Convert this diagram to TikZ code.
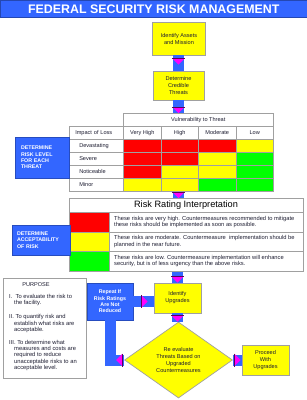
\documentclass[tikz,border=0pt]{standalone}
\usepackage{fontspec}
\setmainfont{Liberation Sans}
\usetikzlibrary{shapes.geometric,calc}
\definecolor{bblue}{RGB}{51,102,255}
\definecolor{yel}{RGB}{255,255,0}
\definecolor{rd}{RGB}{255,0,0}
\definecolor{gr}{RGB}{0,255,0}
\definecolor{mag}{RGB}{255,0,255}
\definecolor{edge}{RGB}{160,160,160}
\definecolor{txt}{RGB}{30,30,50}
\newcommand\tridn[1]{\fill[mag] ($#1+(-6,-6)$) -- ($#1+(6,-6)$) -- #1 -- cycle;
  \draw[mag!35!black, line width=0.5pt] ($#1+(-6.5,-6)$) -- ($#1+(6.5,-6)$);}
\newcommand\trirt[1]{\fill[mag] ($#1+(-6,-6)$) -- ($#1+(-6,6)$) -- #1 -- cycle;
  \draw[mag!35!black, line width=0.5pt] ($#1+(-6,-6.5)$) -- ($#1+(-6,6.5)$);}
\newcommand\trilf[1]{\fill[mag] ($#1+(6,-6)$) -- ($#1+(6,6)$) -- #1 -- cycle;
  \draw[mag!35!black, line width=0.5pt] ($#1+(6,-6.5)$) -- ($#1+(6,6.5)$);}
\begin{document}
\begin{tikzpicture}[x=1pt,y=-1pt,
  ybox/.style={draw=edge, fill=yel, line width=0.7pt, inner sep=0, align=center, text=txt, font=\fontsize{5.6}{7}\selectfont},
  bbox/.style={draw=bblue!75!black, fill=bblue, line width=0.4pt, inner sep=0, text=white, font=\bfseries\fontsize{5.3}{6.4}\selectfont},
  bar/.style={draw=bblue, line width=11pt},
  cell/.style={draw=edge, line width=0.5pt, inner sep=0, anchor=north west, minimum height=13pt, text=txt, font=\fontsize{5.6}{7}\selectfont},
  ptext/.style={anchor=west, inner sep=0, text=txt, font=\fontsize{5.8}{7}\selectfont},
  rtext/.style={anchor=west, inner sep=0, align=left, text=txt, font=\fontsize{5.75}{6.3}\selectfont},
]
\useasboundingbox (0,0) rectangle (307,400);
\fill[white] (0,0) rectangle (307,400);

% title
\node[fill=bblue, draw=bblue!70!black, line width=0.5pt, anchor=north west, minimum width=307pt, minimum height=17pt, inner sep=0, text=white, font=\bfseries\fontsize{12.4}{14}\selectfont] (title) at (0,0) {FEDERAL SECURITY RISK MANAGEMENT};

% top boxes
\node[ybox, minimum width=53pt, minimum height=33pt] (n1) at (179,38.5) {Identify Assets\\and Mission};
\node[ybox, minimum width=51pt, minimum height=29pt] (n2) at (178.5,85.5) {Determine\\Credible\\Threats};

% table
\node[cell, minimum width=150pt] (vul) at (123,113) {Vulnerability to Threat};
\node[cell, minimum width=54pt, text width=42pt, inner xsep=6pt, align=left] (imp) at (69,126) {Impact of Loss};
\node[cell, minimum width=38pt] (vh) at (123,126) {Very High};
\node[cell, minimum width=37pt] (hi) at (161,126) {High};
\node[cell, minimum width=38pt] (mo) at (198,126) {Moderate};
\node[cell, minimum width=37pt] (lo) at (236,126) {Low};
\foreach \r/\y/\lab/\ca/\cb/\cc/\cd in {1/139/Devastating/rd/rd/rd/yel, 2/152/Severe/rd/rd/yel/gr, 3/165/Noticeable/rd/yel/yel/gr, 4/178/Minor/yel/yel/gr/gr}{
  \node[cell, minimum width=54pt, text width=34pt, inner xsep=10pt, align=left] (l\r) at (69,\y) {\lab};
  \node[cell, fill=\ca, minimum width=38pt] (a\r) at (123,\y) {};
  \node[cell, fill=\cb, minimum width=37pt] (b\r) at (161,\y) {};
  \node[cell, fill=\cc, minimum width=38pt] (c\r) at (198,\y) {};
  \node[cell, fill=\cd, minimum width=37pt] (d\r) at (236,\y) {};
}
\node[bbox, minimum width=54pt, minimum height=41pt, text width=42pt, inner xsep=6pt, align=left] (risk) at (42,157.5) {DETERMINE\\RISK LEVEL\\FOR EACH\\THREAT};

% risk rating interpretation
\node[draw=edge, line width=0.7pt, fill=white, anchor=north west, minimum width=234pt, minimum height=73pt, inner sep=0] (rri) at (69,198) {};
\node[inner sep=0, text=black, font=\fontsize{9.2}{11}\selectfont] (rrit) at (186,205.5) {Risk Rating Interpretation};
\draw[edge, line width=0.6pt] (69,212) -- (303,212) (69,232) -- (303,232) (69,251) -- (303,251);
\fill[rd] (70,212.5) rectangle (109,231.5);
\fill[yel] (70,232.5) rectangle (109,250.5);
\fill[gr] (70,251.5) rectangle (109,270.5);
\draw[edge, line width=0.5pt] (109,212) -- (109,271);
\node[rtext] (t1) at (114,222) {These risks are very high. Countermeasures recommended to mitigate\\these risks should be implemented as soon as possible.};
\node[rtext] (t2) at (114,241.5) {These risks are moderate. Countermeasure\ \ implementation should be\\planned in the near future.};
\node[rtext] (t3) at (114,261) {These risks are low. Countermeasure implementation will enhance\\security, but is of less urgency than the above risks.};
\node[bbox, minimum width=58pt, minimum height=30pt, text width=48pt, inner xsep=5pt, align=left] (acc) at (41,240) {DETERMINE\\ACCEPTABILITY\\OF RISK};

% lower flow
\node[ybox, minimum width=47pt, minimum height=30pt] (iu) at (177.5,298) {Identify\\Upgrades};
\node[bbox, minimum width=46pt, minimum height=37pt, align=center] (rep) at (110,301.5) {Repeat If\\Risk Ratings\\Are Not\\Reduced};
\node[diamond, draw=edge, fill=yel, line width=0.7pt, minimum width=108pt, minimum height=76pt, aspect=1.42, inner sep=0, align=center, text=txt, font=\fontsize{5.6}{7}\selectfont] (dia) at (178.5,360) {Re evaluate\\Threats Based on\\Upgraded\\Countermeasures};
\node[ybox, minimum width=47pt, minimum height=30pt] (pro) at (265.5,360) {Proceed\\With\\Upgrades};

% purpose
\node[draw=edge, line width=0.9pt, fill=white, anchor=north west, minimum width=83pt, minimum height=100pt, inner sep=0] (pur) at (3,278) {};
\node[inner sep=0, text=txt, font=\fontsize{5.6}{7}\selectfont] (purt) at (36,285) {PURPOSE};
\node[ptext] (p1) at (9,296) {I.\ \ To evaluate the risk to};
\node[ptext] (p2) at (14,303) {the facility.};
\node[ptext] (p3) at (9,316.5) {II. To quantify risk and};
\node[ptext] (p4) at (14,323.5) {establish what risks are};
\node[ptext] (p5) at (14,330) {acceptable.};
\node[ptext] (p6) at (9,342.5) {III. To determine what};
\node[ptext] (p7) at (14,348.5) {measures and costs are};
\node[ptext] (p8) at (14,354.5) {required to reduce};
\node[ptext] (p9) at (14,361.5) {unacceptable risks to an};
\node[ptext] (p10) at (14,367.5) {acceptable level.};

% connectors
\draw[bar] (n2.north |- n1.south) -- (n2.north);
\draw[bar] (n2.south) -- (n2.south |- vul.north);
\draw[bar] (n2.south |- l4.south) -- (n2.south |- rri.north);
\draw[bar] (iu.north |- rri.south) -- (iu.north);
\draw[bar] (iu.south) -- (iu.south |- dia.north);
\draw[bar] (dia.east) -- (pro.west);
\draw[bar] (rep.east) -- (rep.east -| iu.west);
\draw[bar] (dia.west) -- (rep.south |- dia.west) -- (rep.south);

% arrowheads
\tridn{($(n2.north)+(0,-6)$)}
\tridn{(n2.south |- vul.north)}
\tridn{(n2.south |- rri.north)}
\tridn{(iu.north)}
\tridn{(iu.south |- dia.north)}
\trirt{($(pro.west)+(-1,0)$)}
\trirt{($(rep.east -| iu.west)+(-6,0)$)}
\trilf{($(dia.west)+(-8,0)$)}
\end{tikzpicture}
\end{document}
